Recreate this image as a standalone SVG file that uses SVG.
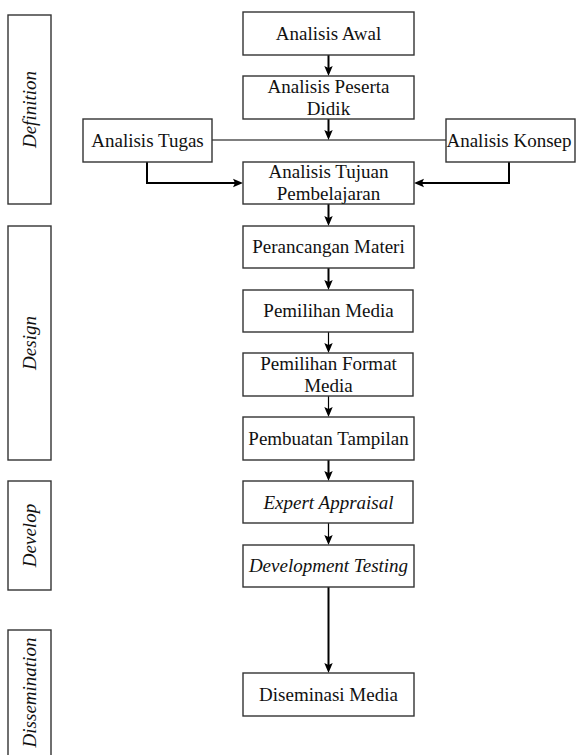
<svg xmlns="http://www.w3.org/2000/svg" width="576" height="755" viewBox="0 0 576 755">
<style>
.box{fill:#fff;stroke:#333;stroke-width:1.4}
.thick{stroke:#000;stroke-width:2;fill:none}
.thin{stroke:#000;stroke-width:1.2;fill:none}
.ah{fill:#000;stroke:none}
</style>
<rect width="576" height="755" fill="#fff"/>
<g id="phases">
<g id="phase-definition"><rect class="box" x="8" y="15" width="43" height="189"/><text style="font-family:'Liberation Serif','Times New Roman',serif !important;font-size:19px;font-style:italic;fill:#111;text-anchor:middle" transform="translate(36,109.5) rotate(-90)">Definition</text></g>
<g id="phase-design"><rect class="box" x="8" y="226" width="43" height="234"/><text style="font-family:'Liberation Serif','Times New Roman',serif !important;font-size:19px;font-style:italic;fill:#111;text-anchor:middle" transform="translate(36,343) rotate(-90)">Design</text></g>
<g id="phase-develop"><rect class="box" x="8" y="481" width="43" height="109"/><text style="font-family:'Liberation Serif','Times New Roman',serif !important;font-size:19px;font-style:italic;fill:#111;text-anchor:middle" transform="translate(36,535.5) rotate(-90)">Develop</text></g>
<g id="phase-dissemination"><rect class="box" x="8" y="630" width="43" height="130"/><text style="font-family:'Liberation Serif','Times New Roman',serif !important;font-size:19px;font-style:italic;fill:#111;text-anchor:middle" transform="translate(36,692.5) rotate(-90)">Dissemination</text></g>
</g>
<g id="connectors">
<line class="thick" x1="328.5" y1="55" x2="328.5" y2="68"/>
<line class="thick" x1="328.5" y1="119" x2="328.5" y2="132"/>
<polyline class="thick" points="147,162 147,183 235,183"/>
<polyline class="thick" points="509,162 509,183 422,183"/>
<line class="thick" x1="328.5" y1="204" x2="328.5" y2="218"/>
<line class="thick" x1="328.5" y1="268" x2="328.5" y2="282"/>
<line class="thick" x1="328.5" y1="460" x2="328.5" y2="473"/>
<line class="thick" x1="328.5" y1="587" x2="328.5" y2="665"/>
<line class="thin" x1="212" y1="140" x2="446" y2="140"/>
<line class="thin" x1="328.5" y1="332" x2="328.5" y2="345"/>
<line class="thin" x1="328.5" y1="396" x2="328.5" y2="409"/>
<line class="thin" x1="328.5" y1="523" x2="328.5" y2="537"/>
<path class="ah" d="M324.3,66 L328.5,76 L332.7,66 L328.5,68 Z"/>
<path class="ah" d="M324.3,130 L328.5,140 L332.7,130 L328.5,132 Z"/>
<path class="ah" d="M233,178.8 L243,183 L233,187.2 L235,183 Z"/>
<path class="ah" d="M424,178.8 L414,183 L424,187.2 L422,183 Z"/>
<path class="ah" d="M324.3,216 L328.5,226 L332.7,216 L328.5,218 Z"/>
<path class="ah" d="M324.3,280 L328.5,290 L332.7,280 L328.5,282 Z"/>
<path class="ah" d="M324.3,343 L328.5,353 L332.7,343 L328.5,345 Z"/>
<path class="ah" d="M324.3,407 L328.5,417 L332.7,407 L328.5,409 Z"/>
<path class="ah" d="M324.3,471 L328.5,481 L332.7,471 L328.5,473 Z"/>
<path class="ah" d="M324.3,535 L328.5,545 L332.7,535 L328.5,537 Z"/>
<path class="ah" d="M324.3,663 L328.5,673 L332.7,663 L328.5,665 Z"/>
</g>
<g id="nodes">
<g id="n-awal"><rect class="box" x="243" y="12" width="171" height="43"/><text style="font-family:'Liberation Serif','Times New Roman',serif !important;font-size:19px;fill:#111;text-anchor:middle" x="328.5" y="40">Analisis Awal</text></g>
<g id="n-peserta"><rect class="box" x="243" y="76" width="171" height="43"/><text style="font-family:'Liberation Serif','Times New Roman',serif !important;font-size:19px;fill:#111;text-anchor:middle" x="328.5" y="93">Analisis Peserta</text><text style="font-family:'Liberation Serif','Times New Roman',serif !important;font-size:19px;fill:#111;text-anchor:middle" x="328.5" y="114.5">Didik</text></g>
<g id="n-tugas"><rect class="box" x="83" y="119" width="129" height="43"/><text style="font-family:'Liberation Serif','Times New Roman',serif !important;font-size:19px;fill:#111;text-anchor:middle" x="147.5" y="146.5">Analisis Tugas</text></g>
<g id="n-konsep"><rect class="box" x="446" y="119" width="129" height="43"/><text style="font-family:'Liberation Serif','Times New Roman',serif !important;font-size:19px;fill:#111;text-anchor:middle" x="509" y="146.5">Analisis Konsep</text></g>
<g id="n-tujuan"><rect class="box" x="243" y="162" width="171" height="42"/><text style="font-family:'Liberation Serif','Times New Roman',serif !important;font-size:19px;fill:#111;text-anchor:middle" x="328.5" y="178">Analisis Tujuan</text><text style="font-family:'Liberation Serif','Times New Roman',serif !important;font-size:19px;fill:#111;text-anchor:middle" x="328.5" y="199.5">Pembelajaran</text></g>
<g id="n-perancangan"><rect class="box" x="243" y="226" width="171" height="42"/><text style="font-family:'Liberation Serif','Times New Roman',serif !important;font-size:19px;fill:#111;text-anchor:middle" x="328.5" y="253">Perancangan Materi</text></g>
<g id="n-media"><rect class="box" x="243" y="290" width="170" height="42"/><text style="font-family:'Liberation Serif','Times New Roman',serif !important;font-size:19px;fill:#111;text-anchor:middle" x="328.5" y="317">Pemilihan Media</text></g>
<g id="n-format"><rect class="box" x="243" y="353" width="170" height="43"/><text style="font-family:'Liberation Serif','Times New Roman',serif !important;font-size:19px;fill:#111;text-anchor:middle" x="328.5" y="370">Pemilihan Format</text><text style="font-family:'Liberation Serif','Times New Roman',serif !important;font-size:19px;fill:#111;text-anchor:middle" x="328.5" y="391.5">Media</text></g>
<g id="n-tampilan"><rect class="box" x="243" y="417" width="171" height="43"/><text style="font-family:'Liberation Serif','Times New Roman',serif !important;font-size:19px;fill:#111;text-anchor:middle" x="328.5" y="445">Pembuatan Tampilan</text></g>
<g id="n-expert"><rect class="box" x="243" y="481" width="170" height="42"/><text style="font-family:'Liberation Serif','Times New Roman',serif !important;font-size:19px;font-style:italic;fill:#111;text-anchor:middle" x="328.5" y="508.5">Expert Appraisal</text></g>
<g id="n-testing"><rect class="box" x="243" y="545" width="171" height="42"/><text style="font-family:'Liberation Serif','Times New Roman',serif !important;font-size:19px;font-style:italic;fill:#111;text-anchor:middle" x="328.5" y="572">Development Testing</text></g>
<g id="n-diseminasi"><rect class="box" x="243" y="673" width="171" height="43"/><text style="font-family:'Liberation Serif','Times New Roman',serif !important;font-size:19px;fill:#111;text-anchor:middle" x="328.5" y="700.5">Diseminasi Media</text></g>
</g>
</svg>
